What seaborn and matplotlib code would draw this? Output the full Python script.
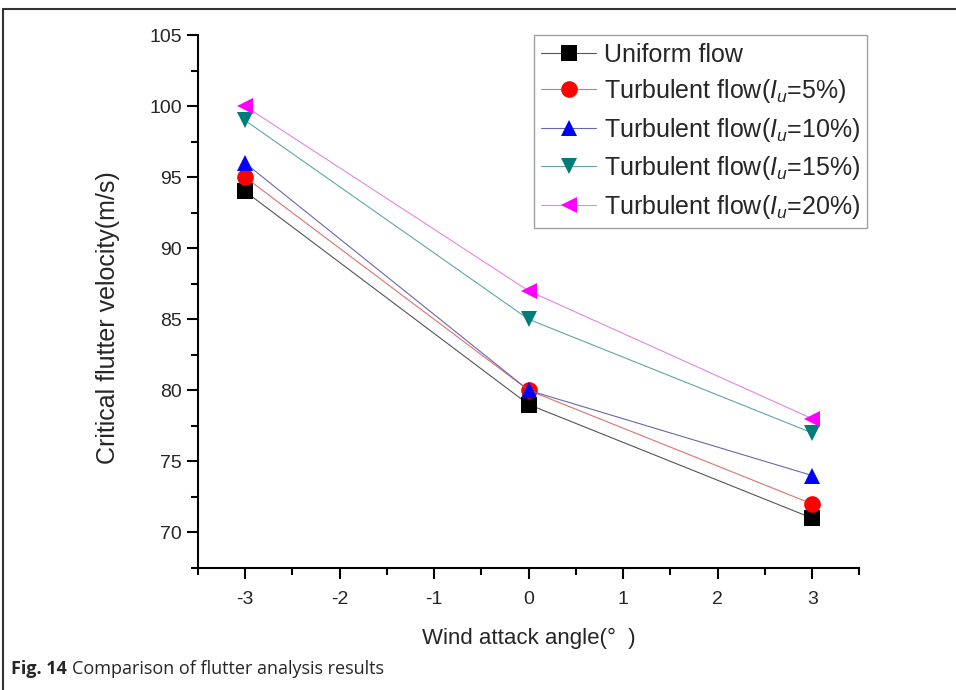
import pandas as pd
import matplotlib.pyplot as plt
import seaborn as sns
from matplotlib.ticker import MultipleLocator

# values
angles = [-3, 0, 3]
uniform = [94, 79, 71]
turb_5 = [95, 80, 72]
turb_10 = [96, 80, 74]
turb_15 = [99, 85, 77]
turb_20 = [100, 87, 78]

labels = ['Uniform flow',
          r'Turbulent flow($I_u$=5%)',
          r'Turbulent flow($I_u$=10%)',
          r'Turbulent flow($I_u$=15%)',
          r'Turbulent flow($I_u$=20%)']
series = [uniform, turb_5, turb_10, turb_15, turb_20]
colors = ['black', 'red', 'blue', '#007d78', 'magenta']
line_colors = ['#555555', '#e07070', '#6868b0', '#5fa8a6', '#e585e5']
markers = ['s', 'o', '^', 'v', '<']

rows = []
for lab, vals in zip(labels, series):
    for a, v in zip(angles, vals):
        rows.append({'angle': a, 'velocity': v, 'case': lab})
df = pd.DataFrame(rows)

sns.set_style('ticks')
plt.rcParams['font.family'] = ['Liberation Sans', 'DejaVu Sans']
plt.rcParams['mathtext.fontset'] = 'custom'
plt.rcParams['mathtext.it'] = 'Liberation Sans:italic'
plt.rcParams['mathtext.rm'] = 'Liberation Sans'
plt.rcParams['axes.unicode_minus'] = False

fig = plt.figure(figsize=(9.56, 6.9), dpi=100)
ax = fig.add_axes([0.207, 0.177, 0.692, 0.772])

sns.lineplot(data=df, x='angle', y='velocity', hue='case', style='case',
             palette=dict(zip(labels, colors)),
             markers=dict(zip(labels, markers)),
             dashes=False, linewidth=0.8, markersize=12,
             markeredgewidth=0, ax=ax)

# thin pale lines, saturated markers (as in the original)
for ln, lc, mc in zip(ax.get_lines(), line_colors, colors):
    ln.set_color(lc)
    ln.set_markerfacecolor(mc)
    ln.set_markeredgecolor(mc)

ax.set_xlim(-3.5, 3.5)
ax.set_ylim(67.5, 105)
ax.xaxis.set_major_locator(MultipleLocator(1))
ax.xaxis.set_minor_locator(MultipleLocator(0.5))
ax.yaxis.set_major_locator(MultipleLocator(5))
ax.yaxis.set_minor_locator(MultipleLocator(2.5))
ax.tick_params(which='major', direction='out', length=8, width=1.5,
               labelsize=14, color='black')
ax.tick_params(axis='x', which='major', pad=9)
ax.tick_params(which='minor', direction='out', length=5, width=1.5,
               color='black')
for s in ['left', 'bottom']:
    ax.spines[s].set_linewidth(1.5)
    ax.spines[s].set_color('black')
sns.despine(ax=ax)

ax.set_xlabel('Wind attack angle(°  )', fontsize=16, labelpad=14)
ax.set_ylabel('Critical flutter velocity(m/s)', fontsize=18)
ax.yaxis.set_label_coords(-0.118, 0.469)

handles, labs = ax.get_legend_handles_labels()
for h, lc, mc in zip(handles, line_colors, colors):
    h.set_color(lc)
    h.set_markerfacecolor(mc)
    h.set_markeredgecolor(mc)
leg = ax.legend(handles, labs, loc='upper right', bbox_to_anchor=(1.012, 1.0),
                fontsize=18, frameon=True, fancybox=False, handlelength=2.2,
                handletextpad=0.3, labelspacing=0.42, borderpad=0.3,
                borderaxespad=0)
leg.get_frame().set_edgecolor('#888888')
leg.get_frame().set_linewidth(1.0)

# outer figure border (top and left) and caption
fig.add_artist(plt.Line2D([0.003, 1.0], [0.987, 0.987], color='#333333', lw=1.5))
fig.add_artist(plt.Line2D([0.003, 0.003], [0.0, 0.987], color='#333333', lw=1.5))
fig.text(0.012, 0.023, 'Fig. 14', fontsize=13, fontweight='bold',
         family=['Open Sans', 'DejaVu Sans'])
fig.text(0.075, 0.023, 'Comparison of flutter analysis results', fontsize=13,
         family=['Open Sans', 'DejaVu Sans'])

fig.savefig('out.png', dpi=100)
